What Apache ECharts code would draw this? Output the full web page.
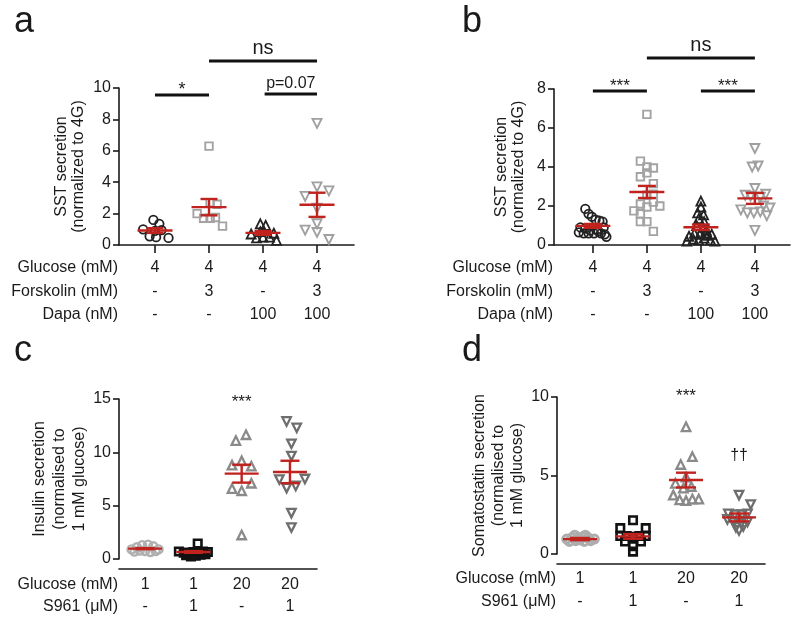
<!DOCTYPE html>
<html><head><meta charset="utf-8">
<script src="https://cdn.jsdelivr.net/npm/echarts@6/dist/echarts.min.js"></script>
<style>html,body{margin:0;padding:0;background:#fff}#c{width:800px;height:623px}</style>
</head><body><div id="c"></div>
<script>
// ---------- DATA (jitter offset within group, value) ----------
// Panel a
const aCircles = [[-0.22,1.0],[-0.1,0.55],[-0.03,1.6],[0.08,1.35],[0.02,0.5],[0.12,0.95],[0.25,0.45],[0.0,0.9]];
const aSquares = [[0,6.3],[-0.22,2.0],[-0.1,1.7],[0.02,1.7],[0.12,1.75],[0.25,1.2],[0.15,2.6],[0.02,2.7]];
const aTriUp = [[-0.05,1.35],[0.05,1.25],[-0.22,0.7],[-0.12,0.45],[0.0,0.5],[0.12,0.5],[0.25,0.3],[0.2,0.75],[-0.05,0.85]];
const aTriDown = [[0,7.75],[0,3.7],[0.22,3.45],[-0.22,3.1],[0,2.35],[0,1.35],[-0.22,0.95],[0,0.8],[0.22,0.35]];
const aMean = [0.92, 2.41, 0.77, 2.56];
const aSem = [0.15, 0.52, 0.12, 0.77];
const aBrackets = [[0, 1, 9.55, '*'], [1, 3, 11.72, 'ns'], [2.03, 3, 9.62, 'p=0.07']];
// Panel b
const bCircles = [[-0.14,1.85],[-0.08,1.6],[-0.02,1.45],[0.05,1.3],[0.12,1.25],[0.18,1.2],[-0.23,0.9],[-0.14,0.85],[-0.05,0.75],[0.08,0.8],[0.2,0.9],[-0.26,0.65],[-0.17,0.6],[-0.08,0.6],[0.02,0.6],[0.15,0.6],[0.22,0.55],[0.25,0.42],[0.1,0.7]];
const bSquares = [[0,6.7],[-0.12,4.3],[0,4.0],[0.12,3.95],[-0.12,3.5],[0,3.7],[0.12,3.15],[0,2.55],[0.12,2.6],[-0.24,1.75],[-0.12,2.1],[0.12,2.2],[0.24,2.0],[0,1.95],[-0.12,1.6],[-0.12,1.2],[0,1.2],[0.12,0.7]];
const bTriUp = [[0,2.25],[0,1.95],[-0.06,1.65],[0.05,1.55],[-0.04,1.35],[0.06,1.2],[-0.08,1.0],[0.04,0.9],[0.1,0.75],[-0.12,0.6],[-0.02,0.55],[0.12,0.5],[0.2,0.55],[-0.22,0.45],[-0.14,0.3],[-0.04,0.25],[0.06,0.35],[0.18,0.25],[0.26,0.2],[-0.26,0.2],[0.08,0.6]];
const bTriDown = [[0,4.95],[-0.05,4.0],[0.06,4.05],[0,2.9],[-0.18,2.55],[-0.08,2.5],[0.1,2.45],[0.2,2.6],[-0.26,1.8],[-0.14,1.65],[-0.02,1.65],[0.1,1.7],[0.22,1.5],[0.28,1.9],[0.16,2.0],[0,0.75]];
const bMean = [0.98, 2.72, 0.91, 2.39];
const bSem = [0.1, 0.31, 0.14, 0.28];
const bBrackets = [[0, 1, 7.9, '***'], [1, 3, 9.59, 'ns'], [2, 3, 7.9, '***']];
// Panel c
const cCircles = [[-0.28,0.9],[-0.17,1.1],[-0.06,1.3],[0.06,1.35],[0.17,1.2],[0.28,0.9],[-0.22,0.7],[0,0.75],[0.11,0.65],[-0.11,0.8],[0.22,0.75]];
const cSquares = [[0.09,1.45],[-0.3,0.7],[-0.2,0.6],[-0.1,0.55],[0,0.65],[0.1,0.6],[0.2,0.7],[0.3,0.65],[-0.15,0.35],[-0.05,0.25],[0.05,0.3],[0.15,0.4],[0.25,0.45]];
const cTriUp = [[-0.12,11.1],[0.09,11.65],[-0.2,8.8],[0,9.2],[0.2,8.7],[-0.2,6.6],[0,6.4],[0.2,7.1],[0,2.25]];
const cTriDown = [[-0.07,12.9],[0.14,12.3],[0.03,10.8],[0.03,9.65],[-0.22,7.45],[0.31,7.5],[-0.07,6.65],[0.12,6.85],[0.03,4.3],[0.03,2.95]];
const cMean = [0.97, 0.66, 8.0, 8.16];
const cSem = [0.05, 0.08, 0.84, 1.05];
const cStars = [[2, 14.1, '***']];
// Panel d
const dCircles = [[-0.25,0.95],[-0.15,1.05],[-0.05,1.0],[0.05,1.1],[0.15,1.05],[0.27,0.95],[-0.2,0.8],[-0.08,0.85],[0.08,0.8],[0.2,0.85],[0,0.9],[0.1,1.2],[-0.1,1.2]];
const dSquares = [[0,2.15],[-0.24,1.65],[0.24,1.65],[-0.24,1.15],[-0.12,1.15],[0,1.1],[0.12,1.15],[0.24,1.15],[-0.15,0.8],[0.15,0.8],[0,0.5],[0,0.15]];
const dTriUp = [[0,8.1],[0.12,6.2],[-0.1,5.7],[0,4.9],[-0.2,4.5],[0.1,4.3],[-0.24,3.75],[-0.12,3.45],[0,3.4],[0.12,3.5],[0.24,3.5],[-0.05,4.2]];
const dTriDown = [[0,3.75],[0.22,3.15],[-0.2,2.55],[-0.08,2.5],[0.06,2.5],[0.16,2.55],[-0.22,2.2],[-0.1,2.0],[0.04,1.95],[0.16,2.05],[-0.06,1.7],[0.08,1.75],[0,1.5]];
const dMean = [0.95, 1.12, 4.71, 2.33];
const dSem = [0.07, 0.15, 0.47, 0.25];
const dStars = [[2, 9.7, '***'], [3, 5.9, '††']];
// Category tables
const abGlucose = ['4', '4', '4', '4'];
const abForskolin = ['-', '3', '-', '3'];
const abDapa = ['-', '-', '100', '100'];
const abRowNames = ['Glucose (mM)', 'Forskolin (mM)', 'Dapa (nM)'];
const cdGlucose = ['1', '1', '20', '20'];
const cdS961 = ['-', '1', '-', '1'];
const cdRowNames = ['Glucose (mM)', 'S961 (μM)'];
const panelLetters = ['a', 'b', 'c', 'd'];
const yNames = ['SST secretion\n(normalized to 4G)', 'SST secretion\n(normalized to 4G)',
  'Insulin secretion\n(normalised to\n1 mM glucose)', 'Somatostatin secretion\n(normalised to\n1 mM glucose)'];

// ---------- STYLE / LAYOUT ----------
const FONT = '"Liberation Sans", Arial, Helvetica, sans-serif';
const INK = '#1a1a1a';
const RED = '#c0231e';
const sym = {
  circK: {symbol: 'circle', size: 8.5, color: '#222', lw: 1.8},
  sqG: {symbol: 'rect', size: 7.5, color: '#a3a3a3', lw: 1.9},
  triK: {symbol: 'triangle', size: 9, color: '#222', lw: 1.8},
  downG: {symbol: 'triangle', rotate: 180, size: 9, color: '#a0a0a0', lw: 1.9},
  circLG: {symbol: 'circle', size: 8, color: '#b0b0b0', lw: 2.4},
  circLG2: {symbol: 'circle', size: 8, color: '#adadad', lw: 3},
  sqK: {symbol: 'rect', size: 7.5, color: '#111', lw: 2.6},
  triG: {symbol: 'triangle', size: 8.5, color: '#8a8a8a', lw: 2.3},
  downDG: {symbol: 'triangle', rotate: 180, size: 8.5, color: '#6e6e6e', lw: 2.3}
};
const panels = [
  {grid: {left: 119, top: 88, width: 235, height: 157}, xr: [-0.667, 3.685], ymax: 10, yint: 2, xOff: 0, tick: 8,
   lm: 11, lh: 23.5, nameGap: 32, nameLH: 17, rows: [abGlucose, abForskolin, abDapa], rowNames: abRowNames,
   groups: [[aCircles, sym.circK], [aSquares, sym.sqG], [aTriUp, sym.triK], [aTriDown, sym.downG]],
   mean: aMean, sem: aSem, mh: 17.5, ch: 8.5, brackets: aBrackets, stars: [], letterPos: [14, 35]},
  {grid: {left: 554, top: 89, width: 236, height: 156}, xr: [-0.72, 3.65], ymax: 8, yint: 2, xOff: 0, tick: 8,
   lm: 11, lh: 23.5, nameGap: 27, nameLH: 17, rows: [abGlucose, abForskolin, abDapa], rowNames: abRowNames,
   groups: [[bCircles, sym.circK], [bSquares, sym.sqG], [bTriUp, sym.triK], [bTriDown, sym.downG]],
   mean: bMean, sem: bSem, mh: 17.5, ch: 9, brackets: bBrackets, stars: [], letterPos: [462, 35]},
  {grid: {left: 119, top: 399, width: 198, height: 160}, xr: [-0.54, 3.56], ymax: 15, yint: 5, xOff: 10, tick: 0,
   lm: 5, lh: 22, nameGap: 29, nameLH: 20, rows: [cdGlucose, cdS961], rowNames: cdRowNames,
   groups: [[cCircles, sym.circLG], [cSquares, sym.sqK], [cTriUp, sym.triG], [cTriDown, sym.downDG]],
   mean: cMean, sem: cSem, mh: 17, ch: 9.5, brackets: [], stars: cStars, letterPos: [14, 364]},
  {grid: {left: 557, top: 397, width: 208, height: 157}, xr: [-0.434, 3.49], ymax: 10, yint: 5, xOff: 10, tick: 0,
   lm: 3, lh: 23, nameGap: 27, nameLH: 19, rows: [cdGlucose, cdS961], rowNames: cdRowNames,
   groups: [[dCircles, sym.circLG2], [dSquares, sym.sqK], [dTriUp, sym.triG], [dTriDown, sym.downDG]],
   mean: dMean, sem: dSem, mh: 17, ch: 10, brackets: [], stars: dStars, letterPos: [462, 364]}
];

const chart = echarts.init(document.getElementById('c'), null, {renderer: 'canvas'});
const grids = [], xAxes = [], yAxes = [], series = [];
panels.forEach((p, pi) => {
  grids.push(Object.assign({containLabel: false}, p.grid));
  xAxes.push({
    type: 'value', gridIndex: pi, min: p.xr[0], max: p.xr[1], offset: p.xOff,
    axisLine: {show: true, onZero: false, lineStyle: {color: INK, width: 1.6}},
    axisTick: {show: p.tick > 0, length: p.tick, customValues: [0, 1, 2, 3], lineStyle: {color: INK, width: 1.6}},
    axisLabel: {show: true, customValues: [0, 1, 2, 3], margin: p.lm, fontSize: 16, fontFamily: FONT, color: INK,
      lineHeight: p.lh, formatter: v => p.rows.map(r => r[Math.round(v)]).join('\n')},
    splitLine: {show: false}
  });
  yAxes.push({
    type: 'value', gridIndex: pi, min: 0, max: p.ymax, interval: p.yint,
    name: yNames[pi], nameLocation: 'middle', nameGap: p.nameGap,
    nameTextStyle: {fontSize: 16, fontFamily: FONT, color: INK, lineHeight: p.nameLH},
    axisLine: {show: true, onZero: false, lineStyle: {color: INK, width: 1.6}},
    axisTick: {show: true, length: 6, lineStyle: {color: INK, width: 1.6}},
    axisLabel: {fontSize: 16, fontFamily: FONT, color: INK, margin: 8},
    splitLine: {show: false}
  });
  p.groups.forEach(([data, st], gi) => {
    series.push({
      type: 'scatter', xAxisIndex: pi, yAxisIndex: pi, symbol: st.symbol, symbolRotate: st.rotate || 0,
      symbolSize: st.size, clip: false, silent: true, z: 2,
      data: data.map(d => [gi + d[0], d[1]]),
      itemStyle: {color: 'rgba(255,255,255,0)', borderColor: st.color, borderWidth: st.lw, opacity: 1}
    });
  });
  series.push({
    type: 'custom', xAxisIndex: pi, yAxisIndex: pi, clip: false, silent: true, z: 5,
    data: p.mean.map((m, i) => [i, m, p.sem[i]]), encode: {x: 0, y: 1},
    renderItem: (params, api) => {
      const x = api.value(0), m = api.value(1), s = api.value(2);
      const c = api.coord([x, m]), t = api.coord([x, m + s]), b = api.coord([x, m - s]);
      const st = {stroke: RED, lineWidth: 2.4};
      return {type: 'group', children: [
        {type: 'line', shape: {x1: c[0] - p.mh, y1: c[1], x2: c[0] + p.mh, y2: c[1]}, style: st},
        {type: 'line', shape: {x1: c[0], y1: t[1], x2: c[0], y2: b[1]}, style: st},
        {type: 'line', shape: {x1: c[0] - p.ch, y1: t[1], x2: c[0] + p.ch, y2: t[1]}, style: st},
        {type: 'line', shape: {x1: c[0] - p.ch, y1: b[1], x2: c[0] + p.ch, y2: b[1]}, style: st}
      ]};
    }
  });
});
chart.setOption({animation: false, backgroundColor: '#fff', grid: grids, xAxis: xAxes, yAxis: yAxes, series: series});

// ---------- annotations positioned through the axes ----------
const gfx = [];
const txtFS = {'*': 18, '***': 17, 'ns': 20, 'p=0.07': 16, '††': 16};
const baseOff = {'*': 1, '***': 1.5, 'ns': -6, 'p=0.07': -5};
function textAtBaseline(x, baseY, text, fs, align) {
  gfx.push({type: 'text', x: x, y: baseY - 0.3465 * fs, silent: true,
    style: {text: text, fontSize: fs, fontFamily: FONT, fill: INK, align: align || 'center', verticalAlign: 'middle'}});
}
panels.forEach((p, pi) => {
  const conv = (x, y) => chart.convertToPixel({gridIndex: pi}, [x, y]);
  p.brackets.forEach(([x1, x2, y, t]) => {
    const a = conv(x1, y), b = conv(x2, y);
    gfx.push({type: 'line', silent: true, shape: {x1: a[0], y1: a[1], x2: b[0], y2: b[1]}, style: {stroke: '#111', lineWidth: 3}});
    textAtBaseline((a[0] + b[0]) / 2, a[1] + baseOff[t], t, txtFS[t]);
  });
  p.stars.forEach(([x, y, t]) => {
    const a = conv(x, y);
    textAtBaseline(a[0], a[1], t, txtFS[t]);
  });
  const o = conv(p.xr[0], 0);
  gfx.push({type: 'text', x: o[0] - 1, y: o[1] + p.xOff + p.lm, silent: true,
    style: {text: p.rowNames.join('\n'), fontSize: 16, fontFamily: FONT, fill: INK, align: 'right', verticalAlign: 'top', lineHeight: p.lh}});
  textAtBaseline(p.letterPos[0], p.letterPos[1], panelLetters[pi], 36, 'left');
});
chart.setOption({graphic: gfx});
</script></body></html>
